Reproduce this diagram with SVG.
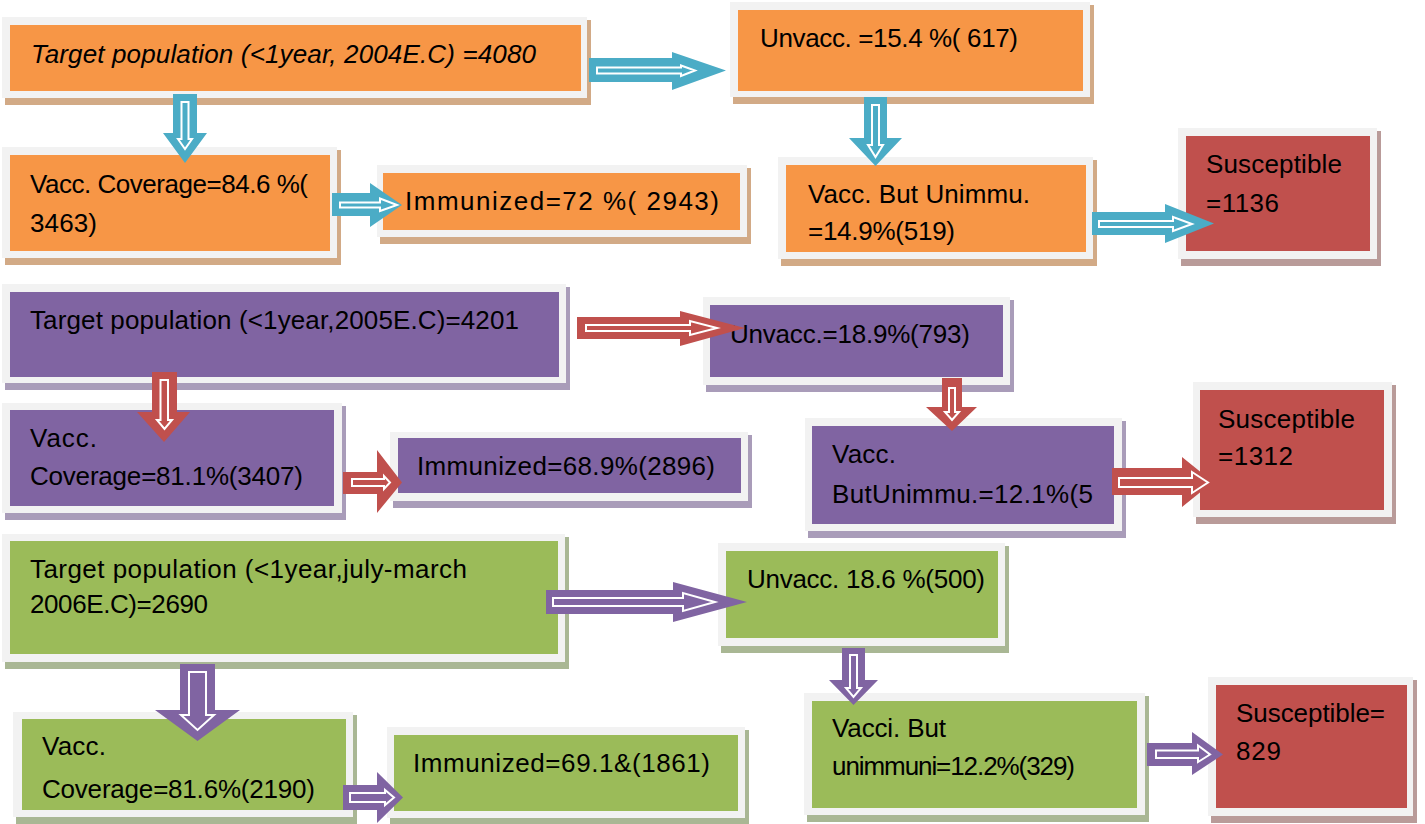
<svg xmlns="http://www.w3.org/2000/svg" width="1425" height="824" viewBox="0 0 1425 824">
<style>
.fr{fill:#f2f2f2}
.so{fill:#d2aa86}.sp{fill:#a99cb9}.sg{fill:#a9b794}.sr{fill:#b99b99}
.o{fill:#f79646}.p{fill:#8064a2}.g{fill:#9bbb59}.r{fill:#c0504d}
text{font-family:"Liberation Sans",Arial,sans-serif;font-size:26px;fill:#000}
.it{font-style:italic}
.ab{fill:#4bacc6}.ar{fill:#c0504d}.ap{fill:#8064a2}
.in{fill:none;stroke:#fff;stroke-width:2;stroke-linejoin:miter}
</style>
<rect width="1425" height="824" fill="#fff"/>

<g id="nodeA">
<rect class="so" x="5" y="20" width="586" height="85"/>
<rect class="fr" x="2" y="17" width="585" height="81"/>
<rect class="o" x="10" y="25" width="571" height="66"/>
<text class="it" x="31" y="63" textLength="505">Target population (&lt;1year, 2004E.C) =4080</text>
</g>
<g id="nodeB">
<rect class="so" x="5" y="150" width="336" height="115"/>
<rect class="fr" x="2" y="147" width="335" height="111"/>
<rect class="o" x="10" y="155" width="320" height="96"/>
<text x="30" y="193" textLength="278">Vacc. Coverage=84.6 %(</text>
<text x="30" y="232" textLength="67">3463)</text>
</g>
<g id="nodeC">
<rect class="so" x="380" y="168" width="371" height="76"/>
<rect class="fr" x="377" y="165" width="370" height="72"/>
<rect class="o" x="383" y="173" width="357" height="57"/>
<text x="405" y="210" textLength="314">Immunized=72 %( 2943)</text>
</g>
<g id="nodeD">
<rect class="so" x="733" y="5" width="361" height="99"/>
<rect class="fr" x="730" y="2" width="360" height="95"/>
<rect class="o" x="738" y="10" width="345" height="81"/>
<text x="760" y="47" textLength="258">Unvacc. =15.4 %( 617)</text>
</g>
<g id="nodeE">
<rect class="so" x="781" y="160" width="316" height="106"/>
<rect class="fr" x="778" y="157" width="315" height="102"/>
<rect class="o" x="786" y="165" width="300" height="87"/>
<text x="808" y="203" textLength="222">Vacc. But Unimmu.</text>
<text x="808" y="240" textLength="147">=14.9%(519)</text>
</g>
<g id="nodeF">
<rect class="sr" x="1181" y="131" width="200" height="135"/>
<rect class="fr" x="1178" y="128" width="199" height="131"/>
<rect class="r" x="1186" y="136" width="184" height="115"/>
<text x="1206" y="173" textLength="136">Susceptible</text>
<text x="1206" y="212" textLength="73">=1136</text>
</g>

<g id="nodeG">
<rect class="sp" x="5" y="287" width="565" height="103"/>
<rect class="fr" x="2" y="284" width="564" height="99"/>
<rect class="p" x="10" y="292" width="549" height="85"/>
<text x="30" y="329" textLength="489">Target population (&lt;1year,2005E.C)=4201</text>
</g>
<g id="nodeH">
<rect class="sp" x="5" y="406" width="341" height="114"/>
<rect class="fr" x="2" y="403" width="340" height="110"/>
<rect class="p" x="10" y="410" width="324" height="96"/>
<text x="30" y="447" textLength="67">Vacc.</text>
<text x="30" y="485" textLength="273">Coverage=81.1%(3407)</text>
</g>
<g id="nodeI">
<rect class="sp" x="393" y="435" width="359" height="73"/>
<rect class="fr" x="390" y="432" width="358" height="69"/>
<rect class="p" x="398" y="438" width="343" height="55"/>
<text x="417" y="475" textLength="298">Immunized=68.9%(2896)</text>
</g>
<g id="nodeJ">
<rect class="sp" x="706" y="300" width="308" height="92"/>
<rect class="fr" x="703" y="297" width="307" height="88"/>
<rect class="p" x="710" y="305" width="293" height="72"/>
<text x="730" y="343" textLength="240">Unvacc.=18.9%(793)</text>
</g>
<g id="nodeK">
<rect class="sp" x="808" y="421" width="318" height="117"/>
<rect class="fr" x="805" y="418" width="317" height="113"/>
<rect class="p" x="812" y="426" width="302" height="98"/>
<text x="832" y="463" textLength="64">Vacc.</text>
<text x="832" y="503" textLength="261">ButUnimmu.=12.1%(5</text>
</g>
<g id="nodeL">
<rect class="sr" x="1196" y="385" width="200" height="139"/>
<rect class="fr" x="1193" y="382" width="199" height="135"/>
<rect class="r" x="1200" y="390" width="184" height="120"/>
<text x="1218" y="428" textLength="137">Susceptible</text>
<text x="1218" y="465" textLength="75">=1312</text>
</g>

<g id="nodeM">
<rect class="sg" x="5" y="537" width="564" height="132"/>
<rect class="fr" x="2" y="534" width="563" height="128"/>
<rect class="g" x="10" y="541" width="548" height="113"/>
<text x="30" y="578" textLength="437">Target population (&lt;1year,july-march</text>
<text x="30" y="613" textLength="178">2006E.C)=2690</text>
</g>
<g id="nodeN">
<rect class="sg" x="16" y="715" width="341" height="109"/>
<rect class="fr" x="13" y="712" width="340" height="105"/>
<rect class="g" x="22" y="719" width="324" height="91"/>
<text x="42" y="755" textLength="64">Vacc.</text>
<text x="42" y="798" textLength="273">Coverage=81.6%(2190)</text>
</g>
<g id="nodeO">
<rect class="sg" x="390" y="730" width="359" height="95"/>
<rect class="fr" x="387" y="727" width="358" height="91"/>
<rect class="g" x="394" y="735" width="344" height="76"/>
<text x="413" y="772" textLength="297">Immunized=69.1&amp;(1861)</text>
</g>
<g id="nodeP">
<rect class="sg" x="721" y="546" width="288" height="107"/>
<rect class="fr" x="718" y="543" width="287" height="103"/>
<rect class="g" x="726" y="551" width="272" height="87"/>
<text x="747" y="588" textLength="238">Unvacc. 18.6 %(500)</text>
</g>
<g id="nodeQ">
<rect class="sg" x="807" y="696" width="342" height="126"/>
<rect class="fr" x="804" y="693" width="341" height="122"/>
<rect class="g" x="812" y="701" width="325" height="107"/>
<text x="832" y="737" textLength="114">Vacci. But</text>
<text x="832" y="775" textLength="243">unimmuni=12.2%(329)</text>
</g>
<g id="nodeR">
<rect class="sr" x="1211" y="680" width="206" height="143"/>
<rect class="fr" x="1208" y="677" width="205" height="139"/>
<rect class="r" x="1216" y="685" width="191" height="123"/>
<text x="1236" y="722" textLength="149">Susceptible=</text>
<text x="1236" y="760" textLength="45">829</text>
</g>

<g id="connectors">
<!-- row 1 blue -->
<polygon class="ab" points="589,58 672,58 672,52 726,70.5 672,90 672,82 589,82"/>
<polygon class="in" points="597,67.5 681,67.5 681,65.5 695,70.5 681,76 681,73.5 597,73.5"/>
<polygon class="ab" points="173,94 197,94 197,133 207,133 185,163 163,133 173,133"/>
<polygon class="in" points="181.5,102 188.5,102 188.5,139 192,139 185,149 178,139 181.5,139"/>
<polygon class="ab" points="332,193 370,193 370,183 402,205 370,227 370,216 332,216"/>
<polygon class="in" points="340,202.5 380,202.5 380,198.5 397,205 380,211 380,207.5 340,207.5"/>
<polygon class="ab" points="864,97 887,97 887,138 902,138 875.5,166 849,138 864,138"/>
<polygon class="in" points="872,105 879,105 879,145 883,145 875.5,157 868,145 872,145"/>
<polygon class="ab" points="1092,212 1165,212 1165,204 1214,223.5 1165,243 1165,235 1092,235"/>
<polygon class="in" points="1099,221 1173,221 1173,217 1192,224 1173,231 1173,227 1099,227"/>
<!-- row 2 red -->
<polygon class="ar" points="577,317 680,317 680,311 745,328 680,346 680,339 577,339"/>
<polygon class="in" points="586,325 690,325 690,321 717,328 690,335 690,331 586,331"/>
<polygon class="ar" points="152,372 177,372 177,412 190,412 164,442 137,412 152,412"/>
<polygon class="in" points="160.5,380 168,380 168,420 172,420 164.5,429 157,420 160.5,420"/>
<polygon class="ar" points="343,472 377,472 377,450 402,482.5 377,513 377,494 343,494"/>
<polygon class="in" points="352,479 384,479 384,476 390,482.5 384,489 384,486 352,486"/>
<polygon class="ar" points="942,378 962,378 962,407 977,407 952,431 926,407 942,407"/>
<polygon class="in" points="949,388 955,388 955,412 959,412 952,420 945,412 949,412"/>
<polygon class="ar" points="1112,468 1182,468 1182,457 1213,482 1182,507 1182,495 1112,495"/>
<polygon class="in" points="1119,478 1192,478 1192,472 1208,482.5 1192,493 1192,487 1119,487"/>
<!-- row 3 purple -->
<polygon class="ap" points="546,590 673,590 673,582 747,602 673,622 673,614 546,614"/>
<polygon class="in" points="553,598 683,598 683,593 715,602 683,611 683,606 553,606"/>
<polygon class="ap" points="180,664 215,664 215,710 240,710 197.5,741 155,710 180,710"/>
<polygon class="in" points="189,672 206,672 206,715 214,715 197.5,730 181,715 189,715" stroke-width="3"/>
<polygon class="ap" points="343,785 377,785 377,772 403,797.5 377,823 377,810 343,810"/>
<polygon class="in" points="350,793 385,793 385,790 394,797.5 385,805 385,802 350,802"/>
<polygon class="ap" points="842,648 865,648 865,680 878,680 853.5,705 829,680 842,680"/>
<polygon class="in" points="850,655 857,655 857,688 861,688 853.5,697 846,688 850,688"/>
<polygon class="ap" points="1147,743 1192,743 1192,732 1223,754.5 1192,775 1192,766 1147,766"/>
<polygon class="in" points="1156,750.5 1198,750.5 1198,745.5 1210,754.5 1198,762 1198,758 1156,758"/>
</g>
</svg>
